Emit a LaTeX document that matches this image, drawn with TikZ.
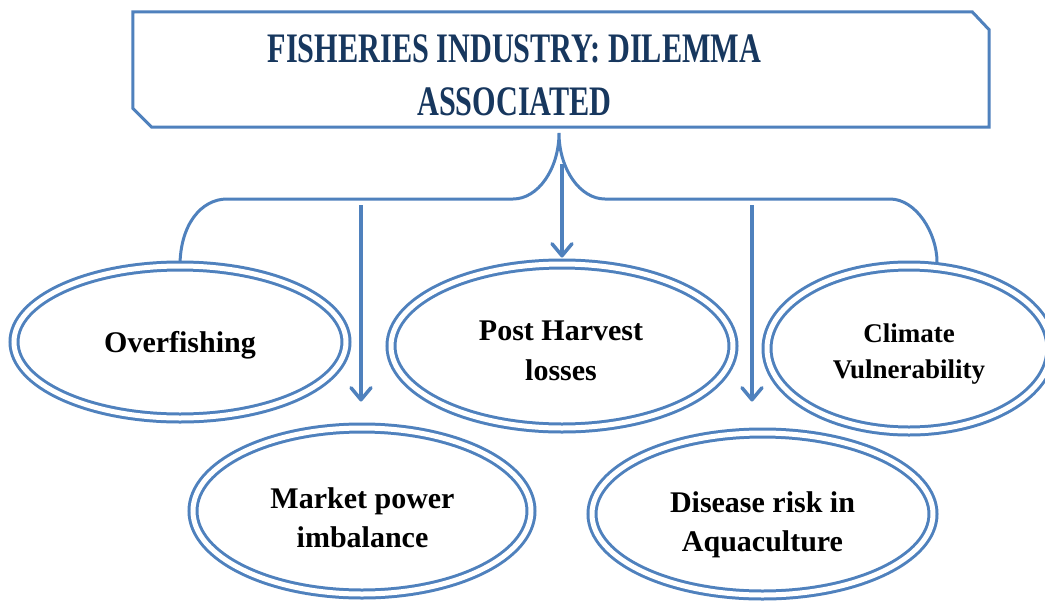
\documentclass[tikz,border=0pt]{standalone}
\usepackage{fontspec}
\setmainfont{Liberation Serif}
\newfontfamily\titlefont[FakeStretch=0.72]{Liberation Serif}
\usetikzlibrary{arrows.meta,shapes.geometric,calc}
\definecolor{lineblue}{HTML}{4F81BD}
\definecolor{titlenavy}{HTML}{17375E}

\begin{document}
\begin{tikzpicture}[x=1pt,y=-1pt,
  boxline/.style={draw=lineblue, line width=3pt, line join=miter},
  titletext/.style={font=\titlefont\bfseries\fontsize{42}{53}\selectfont,
    text=titlenavy, align=center, inner sep=0pt},
  ring/.style={ellipse, draw=lineblue, line width=3pt, double=white,
    double distance=5pt, fill=white, inner sep=0pt},
  lbl/.style={font=\bfseries\fontsize{30}{39.5}\selectfont,
    align=center, inner sep=0pt},
  smalllbl/.style={font=\bfseries\fontsize{27}{36}\selectfont,
    align=center, inner sep=0pt},
  brace/.style={draw=lineblue, line width=3pt, line cap=round},
  arrowline/.style={draw=lineblue, line width=3.5pt,
    -{Straight Barb[length=12pt,width=20pt,round]}}
]
\clip (0,0) rectangle (1045,603);
\useasboundingbox (0,0) rectangle (1045,603);
\fill[white] (0,0) rectangle (1045,603);

% heading box with two cut corners
\node[minimum width=856pt, minimum height=115pt, inner sep=0pt] (title) at (561,69.5) {};
\draw[boxline] (title.north west) -- ($(title.north east)+(-17,0)$)
  -- ($(title.north east)+(0,18)$) -- (title.south east)
  -- ($(title.south west)+(19,0)$) -- ($(title.south west)+(0,-19)$) -- cycle;
\node[titletext] (ttl) at (514.5,75) {FISHERIES INDUSTRY: DILEMMA\\ASSOCIATED};

% named points of the brace and the arrows
\coordinate (tip) at (559,133);
\coordinate (rleg) at (937,262);
\coordinate (a1) at (361,205);
\coordinate (a2) at (562,164);
\coordinate (a3) at (752,205);
\coordinate (ovc) at (180,342);

% brace from the heading down to the first row
\draw[brace] (ovc |- 0,266) .. controls (180,225) and (201,199) .. (227,199)
  -- (513,199) .. controls (538,199) and (559,169) .. (tip)
  .. controls (559,169) and (580,199) .. (605,199)
  -- (890,199) .. controls (916,199) and (937,233) .. (rleg);

% first row
\node[ring, minimum width=332pt, minimum height=152pt] (ov) at (ovc) {};
\node[ring, minimum width=342pt, minimum height=164pt] (ph) at (562,346) {};
\node[ring, minimum width=284pt, minimum height=165pt] (cv) at (909,348.5) {};

% second row
\node[ring, minimum width=338pt, minimum height=166pt] (mk) at (362,511) {};
\node[ring, minimum width=341pt, minimum height=162pt] (dr) at (762.5,514) {};

% texts
\node[lbl, anchor=base] (tov) at (180,352.5) {Overfishing};
\node[lbl] (tph) at (561,350.8) {Post Harvest\\losses};
\node[smalllbl] (tcv) at (909,353.7) {Climate\\Vulnerability};
\node[lbl] (tmk) at (362.5,517.5) {Market power\\imbalance};
\node[lbl] (tdr) at (762.5,524.6) {Disease risk in\\Aquaculture};

% arrows
\draw[arrowline, shorten >=25pt] (a1) -- (a1 |- mk.north);
\draw[arrowline, shorten >=5pt] (a2) -- (ph.north);
\draw[arrowline, shorten >=30pt] (a3) -- (a3 |- dr.north);
\end{tikzpicture}
\end{document}
